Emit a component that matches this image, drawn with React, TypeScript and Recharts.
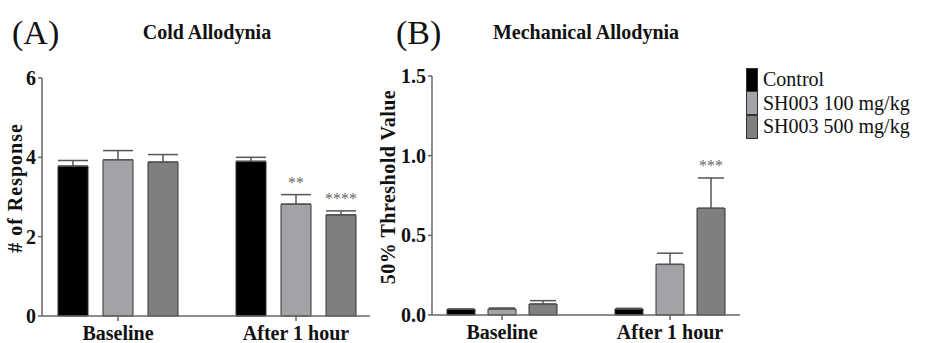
import React from "react";
import { BarChart, Bar, XAxis, YAxis, ErrorBar, LabelList, Legend } from "recharts";

const categories = ["Baseline", "After 1 hour"];
const seriesNames = ["Control", "SH003 100 mg/kg", "SH003 500 mg/kg"];

// (A) cold allodynia, # of response
const coldControl = [3.78, 3.9];
const coldControlErr = [0.14, 0.1];
const cold100 = [3.94, 2.82];
const cold100Err = [0.23, 0.24];
const cold500 = [3.88, 2.55];
const cold500Err = [0.19, 0.1];
const coldSig100 = ["", "**"];
const coldSig500 = ["", "****"];
const coldTicks = [0, 2, 4, 6];

// (B) mechanical allodynia, 50% threshold
const mechControl = [0.036, 0.038];
const mechControlErr = [0.002, 0.004];
const mech100 = [0.038, 0.318];
const mech100Err = [0.006, 0.07];
const mech500 = [0.069, 0.67];
const mech500Err = [0.021, 0.19];
const mechSig500 = ["", "***"];
const mechTicks = [0, 0.5, 1, 1.5];

const colors = ["#000000", "#a3a3a7", "#7f7f7f"];
const serif = "'Liberation Serif', 'Times New Roman', serif";

const coldData = categories.map((name, i) => ({
  name,
  c: coldControl[i],
  cE: [0, coldControlErr[i]],
  l: cold100[i],
  lE: [0, cold100Err[i]],
  h: cold500[i],
  hE: [0, cold500Err[i]],
}));

const mechData = categories.map((name, i) => ({
  name,
  c: mechControl[i],
  cE: [0, mechControlErr[i]],
  l: mech100[i],
  lE: [0, mech100Err[i]],
  h: mech500[i],
  hE: [0, mech500Err[i]],
}));

// asterisks sit a little above the error bar cap
const sigLabel = (sig: string[], err: number[]) => (props: any) => {
  const { x, y, width, height, value, index } = props;
  const s = sig[index];
  if (!s) return null;
  const errPx = (err[index] * height) / value;
  return (
    <text
      x={x + width / 2}
      y={y - errPx - 7}
      textAnchor="middle"
      fontSize={16}
      fontFamily={serif}
      fill="#666"
    >
      {s}
    </text>
  );
};

const tickStyle = { fill: "#111", fontSize: 20, fontWeight: "bold", fontFamily: serif };
const axisLine = { stroke: "#666", strokeWidth: 1.5 };

const renderLegend = (props: any) => (
  <div style={{ fontFamily: serif, fontSize: 20, color: "#111" }}>
    {props.payload.map((p: any) => (
      <div key={p.value} style={{ display: "flex", alignItems: "center", height: 23.5 }}>
        <span
          style={{
            display: "inline-block",
            boxSizing: "border-box",
            width: 12,
            height: 24,
            background: p.color,
            border: "1px solid #333",
          }}
        />
        <span style={{ marginLeft: 5, whiteSpace: "nowrap" }}>{p.value}</span>
      </div>
    ))}
  </div>
);

const App = () => {
  return (
    <div style={{ position: "absolute", left: 0, top: 0, width: 941, height: 343, background: "#fff" }}>
      <div style={{ position: "absolute", left: 0, top: 0 }}>
        <BarChart
          width={380}
          height={343}
          data={coldData}
          margin={{ top: 78, right: 10, left: 0, bottom: 0 }}
          barSize={30}
          barGap={15}
        >
          <XAxis
            dataKey="name"
            height={27}
            padding={{ left: -13, right: -15 }}
            tick={tickStyle}
            tickSize={5}
            tickMargin={5}
            axisLine={axisLine}
            tickLine={axisLine}
          />
          <YAxis
            width={42}
            domain={[0, 6]}
            ticks={coldTicks}
            tick={tickStyle}
            tickSize={4}
            tickMargin={2}
            axisLine={axisLine}
            tickLine={axisLine}
          />
          <Bar dataKey="c" name={seriesNames[0]} fill={colors[0]} stroke="#333" isAnimationActive={false}>
            <ErrorBar dataKey="cE" width={15} stroke="#555" strokeWidth={1.5} direction="y" />
          </Bar>
          <Bar dataKey="l" name={seriesNames[1]} fill={colors[1]} stroke="#333" isAnimationActive={false}>
            <ErrorBar dataKey="lE" width={15} stroke="#555" strokeWidth={1.5} direction="y" />
            <LabelList dataKey="l" content={sigLabel(coldSig100, cold100Err)} />
          </Bar>
          <Bar dataKey="h" name={seriesNames[2]} fill={colors[2]} stroke="#333" isAnimationActive={false}>
            <ErrorBar dataKey="hE" width={15} stroke="#555" strokeWidth={1.5} direction="y" />
            <LabelList dataKey="h" content={sigLabel(coldSig500, cold500Err)} />
          </Bar>
        </BarChart>
      </div>

      <div style={{ position: "absolute", left: 380, top: 0 }}>
        <BarChart
          width={561}
          height={343}
          data={mechData}
          margin={{ top: 76, right: 201, left: 0, bottom: 0 }}
          barSize={28}
          barGap={13}
        >
          <XAxis
            dataKey="name"
            height={28}
            padding={{ left: -14, right: -14 }}
            tick={tickStyle}
            tickSize={5}
            tickMargin={5}
            axisLine={axisLine}
            tickLine={axisLine}
          />
          <YAxis
            width={52}
            domain={[0, 1.5]}
            ticks={mechTicks}
            tickFormatter={(v: number) => v.toFixed(1)}
            tick={tickStyle}
            tickSize={4}
            tickMargin={2}
            axisLine={axisLine}
            tickLine={axisLine}
          />
          <Legend
            layout="horizontal"
            verticalAlign="middle"
            align="center"
            content={renderLegend}
            wrapperStyle={{ left: 366, top: 68, width: "auto" }}
          />
          <Bar dataKey="c" name={seriesNames[0]} fill={colors[0]} stroke="#333" isAnimationActive={false}>
            <ErrorBar dataKey="cE" width={13} stroke="#555" strokeWidth={1.5} direction="y" />
          </Bar>
          <Bar dataKey="l" name={seriesNames[1]} fill={colors[1]} stroke="#333" isAnimationActive={false}>
            <ErrorBar dataKey="lE" width={13} stroke="#555" strokeWidth={1.5} direction="y" />
          </Bar>
          <Bar dataKey="h" name={seriesNames[2]} fill={colors[2]} stroke="#333" isAnimationActive={false}>
            <ErrorBar dataKey="hE" width={13} stroke="#555" strokeWidth={1.5} direction="y" />
            <LabelList dataKey="h" content={sigLabel(mechSig500, mech500Err)} />
          </Bar>
        </BarChart>
      </div>

      <svg width={941} height={343} style={{ position: "absolute", left: 0, top: 0, pointerEvents: "none" }}>
        <g fontFamily={serif} fill="#111">
          <text x={12} y={44} fontSize={34}>(A)</text>
          <text x={207} y={39} fontSize={20} fontWeight="bold" textAnchor="middle">Cold Allodynia</text>
          <text x={396} y={44} fontSize={34}>(B)</text>
          <text x={586} y={39} fontSize={20} fontWeight="bold" textAnchor="middle">Mechanical Allodynia</text>
          <text
            transform="translate(22,188) rotate(-90)"
            fontSize={20}
            fontWeight="bold"
            textAnchor="middle"
            letterSpacing={1}
          >
            # of Response
          </text>
          <text
            transform="translate(395,187) rotate(-90)"
            fontSize={20}
            fontWeight="bold"
            textAnchor="middle"
            letterSpacing={0.5}
          >
            50% Threshold Value
          </text>
        </g>
      </svg>
    </div>
  );
};

export default App;
